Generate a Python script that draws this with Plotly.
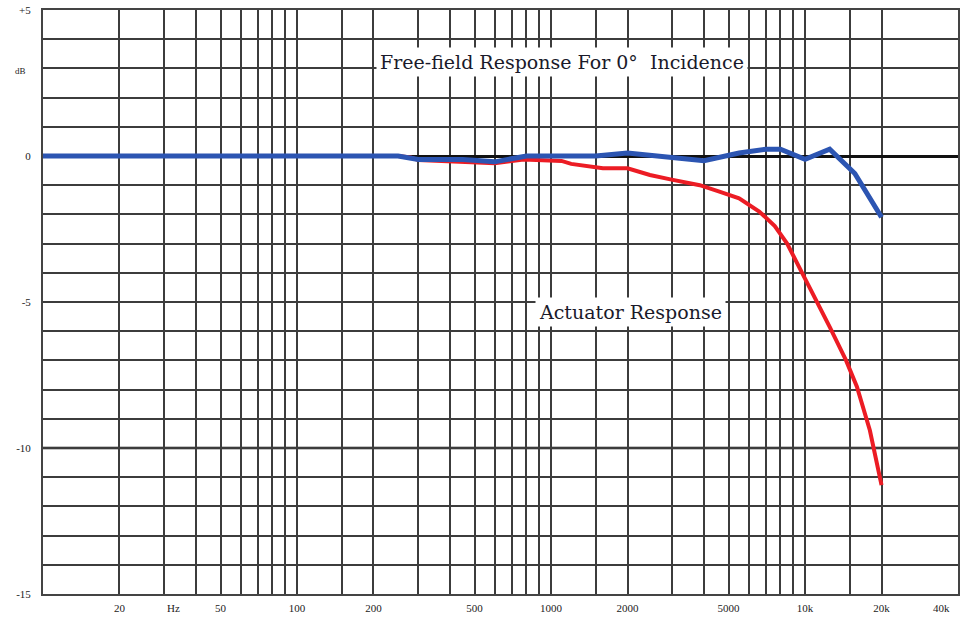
import plotly.graph_objects as go
import math

# ---- data ----
free_field_freq = [10, 250, 300, 450, 600, 800, 1000, 1500, 2000, 3000, 4000, 5500, 7000, 8000, 10000, 12500, 15700, 20000]
free_field_db = [0, 0, -0.12, -0.12, -0.2, 0, 0, 0, 0.1, -0.07, -0.16, 0.1, 0.23, 0.23, -0.11, 0.23, -0.6, -2.1]

actuator_freq = [250, 280, 300, 450, 600, 780, 1100, 1200, 1600, 2000, 2450, 2950, 3850, 4600, 5500, 6600,
                 7600, 8500, 10100, 11100, 12500, 14500, 16000, 18000, 20000]
actuator_db = [0, -0.05, -0.14, -0.2, -0.25, -0.12, -0.17, -0.27, -0.42, -0.42, -0.65, -0.8, -1.0, -1.22, -1.45, -1.9,
               -2.4, -3.0, -4.25, -5.0, -5.85, -7.0, -7.9, -9.4, -11.27]

x_tick_vals = [20, 50, 100, 200, 500, 1000, 2000, 5000, 10000, 20000]
x_tick_text = ["20", "50", "100", "200", "500", "1000", "2000", "5000", "10k", "20k"]
x_edge_label = "40k"
x_minor_grid = [30, 40, 60, 70, 80, 90, 150, 300, 400, 600, 700, 800, 900, 1500,
                3000, 4000, 6000, 7000, 8000, 9000, 15000]
y_tick_vals = [-15, -10, -5, 0, 5]
y_tick_text = ["-15", "-10", "-5", "0", "+5"]
x_range = [10, 40000]
y_range = [-15, 5]
heavy_line_db = -10

serif = "Liberation Serif, Times New Roman, serif"
label_font = "DejaVu Serif, serif"
grid_col = "#3c3c3c"

fig = go.Figure()
fig.add_trace(go.Scatter(x=actuator_freq, y=actuator_db, mode="lines",
                         line=dict(color="#ec1c24", width=4), name="Actuator Response"))
fig.add_trace(go.Scatter(x=free_field_freq, y=free_field_db, mode="lines",
                         line=dict(color="#2c55b2", width=5), name="Free-field Response"))

fig.add_shape(type="line", xref="paper", x0=0, x1=1, yref="y", y0=heavy_line_db, y1=heavy_line_db,
              line=dict(color="#111", width=2.5), layer="below")

fig.add_annotation(x=math.log10(1100), y=3.22, xref="x", yref="y",
                   text="Free-field Response For 0°\u00a0\u00a0Incidence", showarrow=False,
                   font=dict(family=label_font, size=19, color="#1a1a2a"), bgcolor="white", borderpad=3)
fig.add_annotation(x=math.log10(2050), y=-5.34, xref="x", yref="y",
                   text="Actuator Response", showarrow=False,
                   font=dict(family=label_font, size=19, color="#1a1a2a"), bgcolor="white", borderpad=3)
fig.add_annotation(x=-0.033, y=2.9, xref="paper", yref="y", text="dB", showarrow=False,
                   font=dict(family=serif, size=9, color="#222"))
fig.add_annotation(x=math.log10(32.6), y=-0.024, xref="x", yref="paper", text="Hz", showarrow=False,
                   yanchor="middle", font=dict(family=serif, size=11, color="#222"))
fig.add_annotation(x=0.9935, y=-0.024, xref="paper", yref="paper", text=x_edge_label, showarrow=False,
                   yanchor="middle", font=dict(family=serif, size=11, color="#222"))

fig.update_xaxes(type="log", range=[math.log10(x_range[0]), math.log10(x_range[1])],
                 tickmode="array", tickvals=x_tick_vals, ticktext=x_tick_text,
                 showgrid=True, gridcolor=grid_col, gridwidth=1.5,
                 minor=dict(tickmode="array", tickvals=x_minor_grid, showgrid=True,
                            gridcolor=grid_col, gridwidth=1.5, ticks=""),
                 showline=True, mirror=True, linecolor="#444", linewidth=2, ticks="",
                 zeroline=False, automargin=False, ticklabelstandoff=3,
                 tickfont=dict(family=serif, size=11, color="#222"))
fig.update_yaxes(range=y_range, tickmode="array", tickvals=y_tick_vals, ticktext=y_tick_text,
                 showgrid=True, gridcolor=grid_col, gridwidth=1.5,
                 minor=dict(dtick=1, tick0=0, showgrid=True, gridcolor=grid_col, gridwidth=1.5, ticks=""),
                 showline=True, mirror=True, linecolor="#444", linewidth=2, ticks="",
                 zeroline=True, zerolinecolor="#111", zerolinewidth=2.5,
                 ticklabelstandoff=8, automargin=False,
                 tickfont=dict(family=serif, size=11, color="#222"))

fig.update_layout(width=975, height=620, margin=dict(l=43, r=17, t=10, b=26, autoexpand=False),
                  plot_bgcolor="white", paper_bgcolor="white", showlegend=False)

fig.write_html("out.html", config={"displayModeBar": False},
               post_script="document.body.style.margin='0';")
